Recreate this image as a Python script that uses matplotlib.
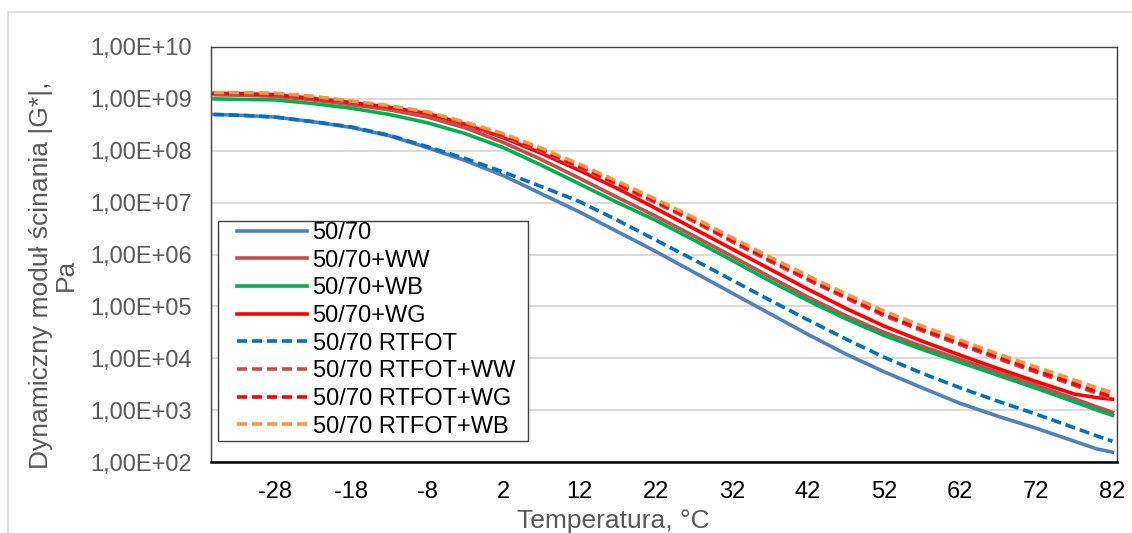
import numpy as np
import matplotlib
matplotlib.use("Agg")
import matplotlib.pyplot as plt
from matplotlib.patches import Rectangle
from matplotlib.ticker import FixedLocator, FuncFormatter

plt.rcParams['font.family'] = ['Liberation Sans', 'DejaVu Sans']

# temperature, degC
temp = [-36, -32, -28, -23, -18, -13, -8, -3, 2, 7, 12, 17, 22, 27, 32, 37, 42, 47, 52, 57, 62, 67, 72, 77, 80, 82]

# log10 of |G*| [Pa]
lg_5070 = [8.70, 8.68, 8.65, 8.56, 8.45, 8.29, 8.06, 7.81, 7.52, 7.17, 6.82, 6.44, 6.06, 5.66, 5.26, 4.86,
           4.46, 4.08, 3.74, 3.43, 3.13, 2.88, 2.65, 2.40, 2.25, 2.19]
lg_ww = [9.08, 9.07, 9.05, 8.98, 8.89, 8.79, 8.65, 8.44, 8.16, 7.83, 7.47, 7.10, 6.74, 6.36, 5.97, 5.57,
         5.18, 4.82, 4.50, 4.23, 3.98, 3.73, 3.48, 3.22, 3.06, 2.96]
lg_wb = [9.00, 8.99, 8.98, 8.91, 8.82, 8.70, 8.54, 8.33, 8.06, 7.72, 7.36, 7.00, 6.66, 6.28, 5.89, 5.49,
         5.11, 4.76, 4.44, 4.17, 3.92, 3.67, 3.42, 3.16, 3.00, 2.90]
lg_wg = [9.11, 9.10, 9.08, 9.01, 8.93, 8.84, 8.72, 8.51, 8.25, 7.95, 7.62, 7.27, 6.89, 6.50, 6.11, 5.72,
         5.33, 4.96, 4.62, 4.33, 4.06, 3.80, 3.55, 3.31, 3.24, 3.21]
lg_rt = [8.70, 8.68, 8.65, 8.56, 8.46, 8.30, 8.08, 7.85, 7.59, 7.31, 7.02, 6.66, 6.28, 5.90, 5.51, 5.12,
         4.74, 4.37, 4.02, 3.71, 3.43, 3.17, 2.92, 2.66, 2.50, 2.40]
lg_rt_ww = [9.09, 9.09, 9.08, 9.02, 8.93, 8.83, 8.70, 8.50, 8.27, 7.99, 7.67, 7.34, 7.00, 6.64, 6.25, 5.87,
            5.51, 5.16, 4.82, 4.53, 4.26, 3.99, 3.73, 3.48, 3.32, 3.23]
lg_rt_wg = [9.11, 9.11, 9.10, 9.04, 8.95, 8.85, 8.73, 8.53, 8.30, 8.02, 7.70, 7.37, 7.03, 6.67, 6.28, 5.90,
            5.54, 5.19, 4.85, 4.56, 4.29, 4.02, 3.76, 3.51, 3.35, 3.26]
lg_rt_wb = [9.12, 9.12, 9.11, 9.05, 8.96, 8.87, 8.75, 8.55, 8.33, 8.05, 7.74, 7.41, 7.07, 6.71, 6.33, 5.95,
            5.59, 5.24, 4.91, 4.62, 4.35, 4.08, 3.83, 3.58, 3.43, 3.34]

labels = ['50/70', '50/70+WW', '50/70+WB', '50/70+WG',
          '50/70 RTFOT', '50/70 RTFOT+WW', '50/70 RTFOT+WG', '50/70 RTFOT+WB']
series = [lg_5070, lg_ww, lg_wb, lg_wg, lg_rt, lg_rt_ww, lg_rt_wg, lg_rt_wb]
colors = ['#4F81BD', '#C0504D', '#00B050', '#FF0000', '#0070C0', '#C0504D', '#FF0000', '#F79646']
dashed = [False, False, False, False, True, True, True, True]

xticks = [-28, -18, -8, 2, 12, 22, 32, 42, 52, 62, 72, 82]

W, H = 1132, 533
fig = plt.figure(figsize=(W / 100, H / 100), dpi=100)
ax = fig.add_axes([211/W, 1 - 462/H, 906/W, 415/H])

# outer chart border
fig.patches.append(Rectangle((8/W, -0.05), 1.2, 1.05 - 12/H, transform=fig.transFigure,
                             fill=False, edgecolor='#D9D9D9', linewidth=1.2))

lw = 2.6
for lab, vals, col, d in zip(labels, series, colors, dashed):
    y = 10.0 ** np.array(vals)
    if d:
        ax.plot(temp, y, color=col, lw=lw, linestyle=(0, (2.8, 1.35)), label=lab)
    else:
        ax.plot(temp, y, color=col, lw=lw, label=lab)

ax.set_yscale('log')
ax.set_ylim(1e2, 1e10)
ax.set_xlim(-36.4, 82.6)
ax.yaxis.set_major_locator(FixedLocator([10.0 ** k for k in range(2, 11)]))
ax.yaxis.set_minor_locator(FixedLocator([]))
ax.yaxis.set_major_formatter(FuncFormatter(lambda v, p: '1,00E+%02d' % int(round(np.log10(v)))))
ax.set_xticks(xticks)
ax.set_xticklabels([str(t) for t in xticks])

ax.grid(axis='y', color='#D9D9D9', linewidth=1.4)
ax.set_axisbelow(True)
for s in ['top', 'left', 'right']:
    ax.spines[s].set_color('#404040')
    ax.spines[s].set_linewidth(1.0)
ax.spines['bottom'].set_color('black')
ax.spines['bottom'].set_linewidth(1.8)

ax.tick_params(axis='y', length=0, pad=14, labelsize=17, labelcolor='#595959')
ax.tick_params(axis='x', length=0, pad=14, labelsize=17, labelcolor='black')

ax.set_xlabel('Temperatura, °C', fontsize=19, color='#595959')
ax.xaxis.set_label_coords(0.444, -0.113)
ax.set_ylabel('Dynamiczny moduł ścinania |G*|,\nPa', fontsize=19, color='#595959', linespacing=1.05)
ax.yaxis.set_label_coords(-0.147, 0.45)

# legend box drawn by hand (Excel pads it more at the sides than at top/bottom)
def px(x, y):
    return ((x - 211) / 906, (462 - y) / 415)

x0, y0 = px(218, 441)
x1, y1 = px(528, 221)
ax.add_patch(Rectangle((x0, y0), x1 - x0, y1 - y0, transform=ax.transAxes, facecolor='white',
                       edgecolor='#404040', linewidth=1.0, zorder=4))
leg = ax.legend(loc='upper left', bbox_to_anchor=px(237, 222), borderaxespad=0, borderpad=0,
                fontsize=17, frameon=False, handlelength=2.95, handletextpad=0.25,
                labelspacing=0.24)
leg.set_zorder(5)

fig.savefig('out.png', dpi=100)
